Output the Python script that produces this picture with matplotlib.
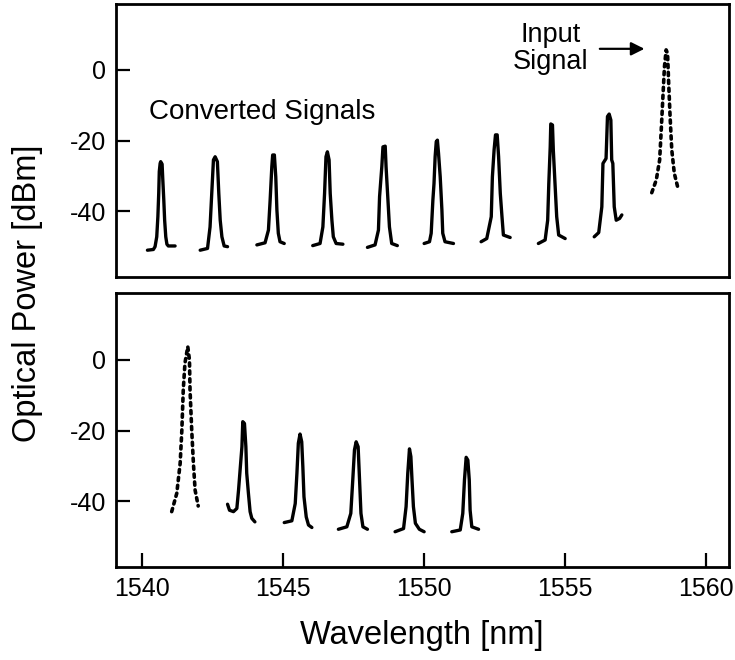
import matplotlib.pyplot as plt

plt.rcParams['font.family'] = ['Liberation Sans', 'DejaVu Sans']

# top panel: converted signals (solid traces)
top_wl = [
    [1540.19, 1540.40, 1540.46, 1540.52, 1540.56, 1540.59, 1540.61, 1540.64, 1540.66, 1540.71, 1540.73, 1540.77, 1540.80, 1540.84, 1540.88, 1540.93, 1541.17],
    [1542.06, 1542.32, 1542.41, 1542.47, 1542.53, 1542.59, 1542.67, 1542.72, 1542.77, 1542.83, 1542.91, 1543.03],
    [1544.07, 1544.36, 1544.48, 1544.54, 1544.60, 1544.63, 1544.69, 1544.74, 1544.78, 1544.83, 1544.89, 1545.04],
    [1546.05, 1546.31, 1546.41, 1546.47, 1546.52, 1546.57, 1546.63, 1546.67, 1546.73, 1546.78, 1546.88, 1547.12],
    [1547.99, 1548.26, 1548.38, 1548.42, 1548.50, 1548.54, 1548.62, 1548.65, 1548.71, 1548.77, 1548.85, 1549.05],
    [1550.00, 1550.19, 1550.25, 1550.31, 1550.35, 1550.39, 1550.43, 1550.47, 1550.51, 1550.57, 1550.63, 1550.66, 1550.74, 1551.04],
    [1552.02, 1552.22, 1552.38, 1552.42, 1552.48, 1552.53, 1552.59, 1552.64, 1552.70, 1552.76, 1552.81, 1553.05],
    [1554.05, 1554.29, 1554.38, 1554.42, 1554.47, 1554.49, 1554.55, 1554.58, 1554.64, 1554.70, 1554.77, 1555.00],
    [1556.03, 1556.19, 1556.30, 1556.34, 1556.45, 1556.50, 1556.56, 1556.62, 1556.65, 1556.69, 1556.74, 1556.81, 1556.93, 1557.01],
]
top_db = [
    [-51.1, -50.9, -50.1, -47.3, -41.6, -35.0, -28.8, -26.5, -26.0, -26.7, -30.3, -36.9, -42.6, -47.3, -49.4, -49.9, -49.9],
    [-51.1, -50.6, -44.5, -35.0, -25.5, -24.6, -26.0, -35.0, -42.6, -47.3, -49.9, -50.1],
    [-49.6, -49.0, -45.4, -36.9, -27.4, -24.1, -24.1, -30.3, -39.7, -46.3, -48.7, -49.2],
    [-49.8, -49.2, -44.5, -35.0, -24.6, -23.2, -25.5, -35.0, -42.6, -47.3, -49.2, -49.4],
    [-50.3, -49.6, -45.4, -35.9, -27.4, -21.8, -21.6, -27.4, -35.9, -44.5, -49.2, -49.8],
    [-49.2, -48.7, -46.3, -36.9, -32.2, -24.6, -20.3, -19.9, -23.6, -30.3, -39.7, -46.3, -48.7, -49.2],
    [-48.7, -47.8, -41.6, -30.3, -22.7, -18.4, -18.4, -24.6, -35.0, -41.6, -46.8, -47.5],
    [-49.2, -48.2, -42.6, -32.2, -21.8, -15.3, -15.6, -22.7, -32.2, -41.6, -46.8, -47.8],
    [-47.3, -46.1, -38.8, -26.5, -25.1, -13.2, -12.5, -14.2, -25.5, -26.5, -38.8, -42.6, -42.1, -41.1],
]
top_in_wl = [1558.07, 1558.23, 1558.35, 1558.40, 1558.46, 1558.52, 1558.58, 1558.63, 1558.67, 1558.72, 1558.78, 1558.87, 1559.02]
top_in_db = [-34.8, -31.2, -25.5, -18.0, -8.5, 0.9, 5.7, 4.7, -3.8, -13.2, -22.7, -29.3, -34.2]

# bottom panel
bot_wl = [
    [1543.03, 1543.10, 1543.24, 1543.36, 1543.42, 1543.48, 1543.54, 1543.57, 1543.63, 1543.68, 1543.71, 1543.77, 1543.83, 1543.89, 1544.00],
    [1545.04, 1545.31, 1545.43, 1545.49, 1545.54, 1545.60, 1545.66, 1545.70, 1545.74, 1545.82, 1545.90, 1546.02],
    [1546.96, 1547.26, 1547.40, 1547.47, 1547.53, 1547.59, 1547.66, 1547.71, 1547.76, 1547.83, 1547.99],
    [1548.97, 1549.27, 1549.36, 1549.42, 1549.48, 1549.53, 1549.57, 1549.62, 1549.69, 1549.83, 1550.00],
    [1550.98, 1551.28, 1551.37, 1551.43, 1551.49, 1551.55, 1551.60, 1551.63, 1551.69, 1551.93],
]
bot_db = [
    [-40.9, -42.6, -43.0, -42.1, -36.9, -30.7, -24.6, -17.5, -18.0, -24.6, -32.1, -37.8, -43.0, -44.9, -45.9],
    [-46.1, -45.6, -40.7, -32.1, -23.6, -21.0, -23.2, -30.3, -38.8, -44.5, -46.8, -47.5],
    [-48.0, -47.3, -43.5, -34.0, -25.5, -23.2, -24.6, -34.0, -43.5, -47.3, -48.0],
    [-48.7, -47.8, -41.6, -32.1, -25.2, -27.4, -34.0, -41.6, -46.3, -48.0, -48.7],
    [-48.7, -48.2, -43.5, -34.0, -27.6, -28.4, -34.0, -42.6, -47.3, -48.0],
]
bot_in_wl = [1541.05, 1541.23, 1541.35, 1541.41, 1541.46, 1541.52, 1541.62, 1541.68, 1541.70, 1541.76, 1541.82, 1541.88, 1541.99]
bot_in_db = [-43.0, -37.8, -29.3, -19.9, -8.5, -0.9, 3.8, 0.0, -8.5, -19.9, -29.3, -36.9, -41.4]

yticks = [0, -20, -40]
xticks = [1540, 1545, 1550, 1555, 1560]

fig = plt.figure(figsize=(7.35, 6.6), dpi=100)
ax1 = fig.add_axes([0.158, 0.5803, 0.8335, 0.4136])
ax2 = fig.add_axes([0.158, 0.1409, 0.8335, 0.4152])

solid = dict(color='black', lw=2.4, solid_joinstyle='round', solid_capstyle='round')
dotted = dict(color='black', lw=2.6, linestyle=(0, (0.9, 1.3)), dash_capstyle='round')

for wl, db in zip(top_wl, top_db):
    ax1.plot(wl, db, **solid)
ax1.plot(top_in_wl, top_in_db, **dotted)

for wl, db in zip(bot_wl, bot_db):
    ax2.plot(wl, db, **solid)
ax2.plot(bot_in_wl, bot_in_db, **dotted)

for ax in (ax1, ax2):
    ax.set_xlim(1539.08, 1560.8)
    ax.set_yticks(yticks)
    ax.set_yticklabels(['0', '-20', '-40'])
    for s in ax.spines.values():
        s.set_linewidth(2.0)
    ax.tick_params(axis='y', direction='in', length=10, width=1.6, labelsize=18, pad=7)
ax1.set_ylim(-58.7, 18.7)
ax2.set_ylim(-58.7, 19.0)

ax1.set_xticks([])
ax2.set_xticks(xticks)
ax2.tick_params(axis='x', direction='in', length=10, width=1.6, labelsize=18, pad=7)

ax1.text(1540.25, -11.8, 'Converted Signals', fontsize=20, ha='left', va='center')
ax1.text(1554.5, 6.1, 'Input\nSignal', fontsize=19.5, ha='center', va='center', linespacing=1.05)
ax1.annotate('', xy=(1557.91, 6.0), xytext=(1556.13, 6.0),
             arrowprops=dict(arrowstyle='-|>', color='black', lw=1.6, mutation_scale=20))

fig.text(0.037, 0.555, 'Optical Power [dBm]', rotation=90, fontsize=23.5, ha='center', va='center')
fig.text(0.574, 0.037, 'Wavelength [nm]', fontsize=23.5, ha='center', va='center')

fig.savefig('out.png', dpi=100)
